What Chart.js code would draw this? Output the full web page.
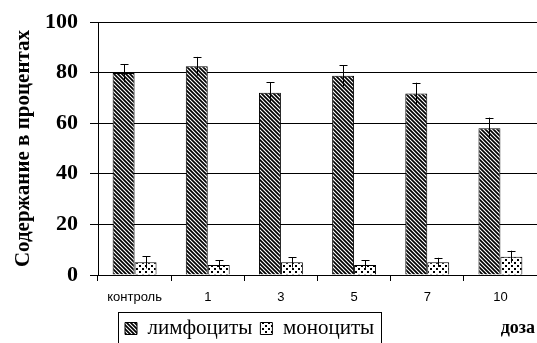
<!DOCTYPE html>
<html>
<head>
<meta charset="utf-8">
<script src="https://cdn.jsdelivr.net/npm/chart.js@4"></script>
<style>
  body { margin: 0; background: #fff; }
  #wrap { width: 537px; height: 343px; }
</style>
</head>
<body>
<div id="wrap"><canvas id="myChart" width="537" height="343"></canvas></div>
<script>
// data
const doses = ['контроль', '1', '3', '5', '7', '10'];
const lymphocytes = [79.8, 82.5, 72.0, 78.8, 71.7, 58.0];
const lymphErr = [3.6, 3.7, 4.2, 4.2, 4.3, 4.2];
const monocytes = [5.0, 4.0, 5.0, 4.0, 5.0, 7.2];
const monoErr = [2.4, 1.8, 2.0, 1.8, 1.8, 2.4];

// hatch fills
function stripes() {
    const c = document.createElement('canvas');
    c.width = 4; c.height = 4;
    const g = c.getContext('2d');
    g.fillStyle = '#fff';
    g.fillRect(0, 0, 4, 4);
    g.strokeStyle = '#000';
    g.lineWidth = 1.7;
    g.beginPath();
    g.moveTo(-1, -1); g.lineTo(5, 5);
    g.moveTo(-1, 3); g.lineTo(1, 5);
    g.moveTo(3, -1); g.lineTo(5, 1);
    g.stroke();
    return g.createPattern(c, 'repeat');
}
function dots() {
    const c = document.createElement('canvas');
    c.width = 6; c.height = 6;
    const g = c.getContext('2d');
    g.fillStyle = '#fff';
    g.fillRect(0, 0, 6, 6);
    g.fillStyle = '#000';
    g.fillRect(1, 1, 2, 2);
    g.fillRect(4, 4, 2, 2);
    return g.createPattern(c, 'repeat');
}

const errors = [lymphErr, monoErr];

// error bars: line through the bar top with a cap on the upper end
const errorBars = {
    id: 'errorBars',
    afterDatasetsDraw(chart) {
        const ctx = chart.ctx;
        const y = chart.scales.y;
        ctx.save();
        ctx.strokeStyle = '#000';
        ctx.lineWidth = 1;
        chart.data.datasets.forEach((ds, i) => {
            const meta = chart.getDatasetMeta(i);
            meta.data.forEach((bar, j) => {
                const v = ds.data[j], e = errors[i][j];
                const x = Math.round(bar.x) + 0.5;
                const top = y.getPixelForValue(v + e);
                const bot = y.getPixelForValue(v - e);
                ctx.beginPath();
                ctx.moveTo(x, bot); ctx.lineTo(x, top);
                ctx.moveTo(x - 4, Math.round(top) + 0.5); ctx.lineTo(x + 4, Math.round(top) + 0.5);
                ctx.stroke();
            });
        });
        ctx.restore();
    }
};

// move legend left/down, frame it, and write "доза"
const extras = {
    id: 'extras',
    afterLayout(chart) {
        const lg = chart.legend;
        const lw = lg.lineWidths[0];
        const shift = 125 - (lg.left + 8 + lg.right - lw) / 2;
        lg.left += shift; lg.right += shift;
        lg.top += 6; lg.bottom += 6;
    },
    afterDraw(chart) {
        const ctx = chart.ctx;
        const lg = chart.legend;
        const lw = lg.lineWidths[0];
        const start = (lg.left + 8 + lg.right - lw) / 2;
        ctx.save();
        ctx.strokeStyle = '#000';
        ctx.lineWidth = 1;
        ctx.strokeRect(Math.round(start - 7) + 0.5, Math.round(lg.top + 2) + 0.5, Math.round(lw + 6), 40);
        ctx.fillStyle = '#000';
        ctx.font = 'bold 18px "Liberation Serif"';
        ctx.textAlign = 'right';
        ctx.textBaseline = 'middle';
        ctx.fillText('доза', 535, 328);
        ctx.restore();
    }
};

const config = {
    type: 'bar',
    data: {
        labels: doses,
        datasets: [
            { label: 'лимфоциты', data: lymphocytes, backgroundColor: stripes(), borderColor: '#000', borderWidth: 1 },
            { label: 'моноциты', data: monocytes, backgroundColor: dots(), borderColor: '#000', borderWidth: 1 }
        ]
    },
    options: {
        responsive: false,
        animation: false,
        layout: { padding: { top: 22, right: 0, left: 0, bottom: 0 } },
        datasets: { bar: { categoryPercentage: 0.6, barPercentage: 1.0 } },
        plugins: {
            tooltip: { enabled: false },
            legend: {
                position: 'bottom',
                labels: {
                    color: '#000',
                    font: { family: 'Liberation Serif', size: 21 },
                    boxWidth: 12,
                    boxHeight: 12,
                    padding: 8
                }
            }
        },
        scales: {
            x: {
                grid: { display: true, offset: true, drawOnChartArea: false, color: '#000', tickLength: 6 },
                border: { color: '#000', width: 1 },
                ticks: { color: '#000', font: { family: 'Liberation Sans', size: 13 }, padding: 9 },
                afterFit(s) {
                    s.height = 343 - 275 - s.chart.legend.height;
                    s.paddingLeft = 0; s.paddingRight = 0;
                }
            },
            y: {
                min: 0, max: 100,
                ticks: { stepSize: 20, color: '#000', font: { family: 'Liberation Serif', size: 22, weight: 'bold' }, padding: 12 },
                grid: { color: '#000', tickLength: 8 },
                border: { color: '#000', width: 1 },
                title: {
                    display: true,
                    text: 'Содержание в процентах',
                    color: '#000',
                    font: { family: 'Liberation Serif', size: 21, weight: 'bold' },
                    padding: { top: 11, bottom: 0 }
                },
                afterFit(s) {
                    s.width = 98;
                    s.paddingTop = 0; s.paddingBottom = 0;
                }
            }
        }
    },
    plugins: [errorBars, extras]
};

const myChart = new Chart(document.getElementById('myChart'), config);
</script>
</body>
</html>
